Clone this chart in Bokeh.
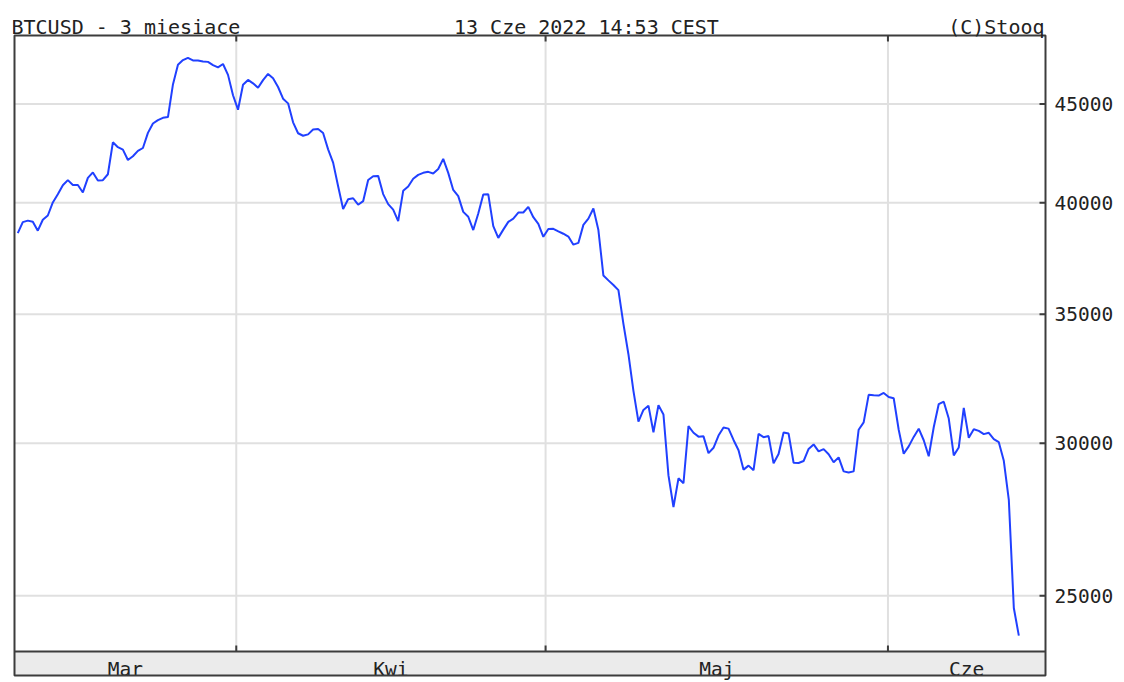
import math
from bokeh.plotting import figure
from bokeh.models import Range1d, FixedTicker, PrintfTickFormatter, LinearScale
from bokeh.embed import file_html
from bokeh.resources import INLINE
from bokeh.core.properties import value

# ---------------- data ----------------
title_left = "BTCUSD - 3 miesiace"
title_center = "13 Cze 2022 14:53 CEST"
title_right = "(C)Stooq"

# BTCUSD price samples (uniform steps, mid-March .. 13 June 2022)
prices = [
    38570, 39080, 39150, 39100, 38680, 39190, 39390, 40010, 40400, 40840,
    41090, 40850, 40850, 40490, 41200, 41470, 41070, 41090, 41380, 42990,
    42740, 42620, 42090, 42280, 42550, 42700, 43480, 43970, 44150, 44270,
    44310, 46070, 47170, 47430, 47560, 47410, 47410, 47350, 47330, 47150,
    47020, 47210, 46600, 45480, 44700, 46050, 46320, 46130, 45890, 46310,
    46650, 46410, 45930, 45290, 45040, 44030, 43460, 43330, 43400, 43650,
    43680, 43470, 42630, 41960, 40790, 39700, 40160, 40210, 39900, 40070,
    41100, 41280, 41300, 40410, 39930, 39670, 39130, 40570, 40780, 41160,
    41350, 41450, 41500, 41420, 41640, 42150, 41450, 40610, 40310, 39560,
    39330, 38710, 39480, 40390, 40400, 38890, 38350, 38730, 39090, 39240,
    39530, 39530, 39800, 39310, 39000, 38400, 38760, 38770, 38650, 38540,
    38410, 38040, 38120, 38950, 39240, 39720, 38710, 36660, 36450, 36250,
    36030, 34600, 33370, 31940, 30790, 31220, 31380, 30400, 31400, 31050,
    28870, 27800, 28770, 28600, 30620, 30380, 30240, 30250, 29650, 29840,
    30280, 30570, 30530, 30120, 29750, 29070, 29210, 29050, 30340, 30220,
    30260, 29290, 29620, 30390, 30350, 29310, 29300, 29370, 29800, 29960,
    29710, 29790, 29610, 29330, 29500, 29010, 28970, 29010, 30490, 30760,
    31790, 31770, 31760, 31860, 31710, 31660, 30490, 29630, 29890, 30230,
    30530, 30110, 29540, 30580, 31440, 31530, 30900, 29570, 29850, 31300,
    30200, 30510, 30450, 30330, 30380, 30150, 30040, 29380, 28040, 24640,
    23840,
]
sample_idx = list(range(len(prices)))

month_labels = ["Mar", "Kwi", "Maj", "Cze"]
month_start_idx = [43.65, 105.45, 173.85]   # 1 Apr, 1 May, 1 Jun (sample index units)
y_ticks = [25000, 30000, 35000, 40000, 45000]

price_low, price_high = 23390, 48846        # price span of the plotting area

# ---------------- layout / style ----------------
FONT = "DejaVu Sans Mono"
TXT = "#222222"
FRAME = "#3c3c3c"
GRID = "#e0e0e0"
LINE = "#2040ff"
BAND_FILL = "#ebebeb"

W, H = 1116, 680
FR_L, FR_R = 12, 1048                 # drawing frame edges (px)
PLOT_L, PLOT_R = 14, 1046             # chart box edges (px)
PLOT_T, PLOT_B, BAND_B = 35, 651, 675 # chart top, price-area bottom, band bottom (px)
X0_PX, DX_PX = 17.3, 5.01             # px of first sample and px per sample step


def xi(px):
    """page px -> sample-index coordinate"""
    return (px - X0_PX) / DX_PX


def yp(px):
    """page px (from top) -> overlay coordinate (px from bottom)"""
    return H - px


x_start, x_end = xi(FR_L), xi(FR_R)
ppl = (PLOT_B - PLOT_T) / math.log(price_high / price_low)
y_top = price_high * math.exp(PLOT_T / ppl)
y_bot = price_low * math.exp(-(H - PLOT_B) / ppl)

p = figure(width=W, height=H,
           x_range=Range1d(x_start, x_end),
           y_range=Range1d(y_bot, y_top),
           y_axis_type="log", y_axis_location="right", x_axis_location=None,
           output_backend="svg", toolbar_location=None,
           min_border_left=FR_L, min_border_right=W - FR_R,
           min_border_top=0, min_border_bottom=0)
p.extra_y_ranges = {"px": Range1d(0, H)}
p.extra_y_scales = {"px": LinearScale()}
p.background_fill_color = "white"
p.border_fill_color = "white"
p.outline_line_color = None
for g in p.center:
    g.visible = False

# grid lines (inside the chart box only)
n_m = len(month_start_idx)
n_y = len(y_ticks)
p.segment(x0=month_start_idx, x1=month_start_idx, y0=[price_low] * n_m, y1=[price_high] * n_m,
          line_color=GRID, line_width=2)
p.segment(x0=[xi(PLOT_L)] * n_y, x1=[xi(PLOT_R)] * n_y, y0=y_ticks, y1=y_ticks,
          line_color=GRID, line_width=2)

# price line
p.line(x=sample_idx, y=prices, line_color=LINE, line_width=2)

# month band
p.quad(left=[xi(PLOT_L)], right=[xi(PLOT_R)], bottom=[yp(BAND_B)], top=[yp(PLOT_B)],
       y_range_name="px", fill_color=BAND_FILL, line_color=None)
bounds = [xi(PLOT_L)] + month_start_idx + [xi(PLOT_R)]
centers = [(bounds[i] + bounds[i + 1]) / 2 for i in range(len(month_labels))]
p.text(x=centers, y=[yp(668.5)] * len(centers), text=month_labels, y_range_name="px",
       text_align="center", text_baseline="alphabetic",
       text_font=value(FONT), text_font_size=value("19.5px"), text_color=TXT)

# chart box and band separator
p.quad(left=[xi(PLOT_L)], right=[xi(PLOT_R)], bottom=[yp(BAND_B)], top=[yp(PLOT_T)],
       y_range_name="px", fill_color=None, line_color=FRAME, line_width=2)
p.segment(x0=[xi(PLOT_L)], x1=[xi(PLOT_R)], y0=[yp(PLOT_B)], y1=[yp(PLOT_B)],
          y_range_name="px", line_color=FRAME, line_width=2)

# inward ticks: month boundaries (bottom & top), price levels (right)
p.segment(x0=month_start_idx, x1=month_start_idx, y0=[yp(PLOT_B)] * n_m,
          y1=[yp(PLOT_B - 6)] * n_m, y_range_name="px", line_color=FRAME, line_width=2)
p.segment(x0=month_start_idx, x1=month_start_idx, y0=[yp(PLOT_T)] * n_m,
          y1=[yp(PLOT_T + 6)] * n_m, y_range_name="px", line_color=FRAME, line_width=2)
p.segment(x0=[xi(PLOT_R - 6)] * n_y, x1=[xi(PLOT_R)] * n_y, y0=y_ticks, y1=y_ticks,
          line_color=FRAME, line_width=2)

# right price axis (labels only)
yax = p.yaxis[0]
yax.ticker = FixedTicker(ticks=y_ticks, minor_ticks=[])
yax.formatter = PrintfTickFormatter(format="%d")
yax.major_tick_in = 0
yax.major_tick_out = 0
yax.major_tick_line_color = None
yax.minor_tick_line_color = None
yax.axis_line_color = None
yax.major_label_standoff = 7
yax.major_label_text_font = FONT
yax.major_label_text_font_size = "19.5px"
yax.major_label_text_color = TXT

# header texts
for txt, px_x, al in [(title_left, 11, "left"), (title_center, 586.5, "center"),
                      (title_right, 1045, "right")]:
    p.text(x=[xi(px_x)], y=[yp(26.5)], text=[txt], y_range_name="px",
           text_align=al, text_baseline="alphabetic",
           text_font=value(FONT), text_font_size=value("20px"), text_color=TXT)

open("out.html", "w").write(file_html(p, INLINE))
